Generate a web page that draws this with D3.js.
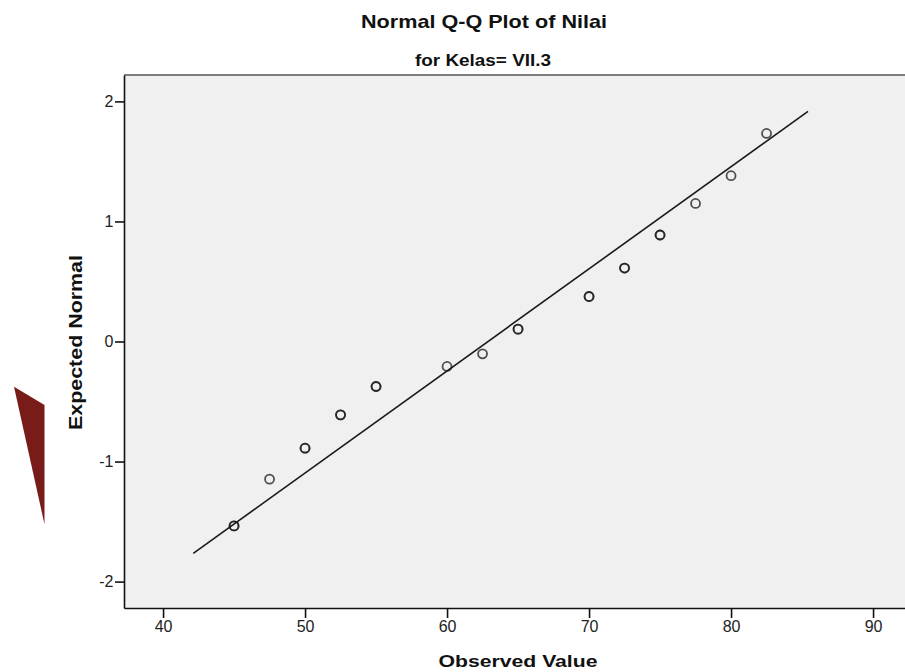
<!DOCTYPE html>
<html>
<head>
<meta charset="utf-8">
<script src="https://cdn.jsdelivr.net/npm/d3@7"></script>
<style>
  body { margin: 0; background: #fff; }
  svg { display: block; }
  .axis text { font-family: "Liberation Sans", Arial, sans-serif; font-size: 16px; fill: #222; }
  .axis line, .axis path { stroke: #111; stroke-width: 1.6px; }
  .label { font-family: "Liberation Sans", Arial, sans-serif; font-weight: bold; fill: #111; }
</style>
</head>
<body>
<script>
var observed = [45, 47.5, 50, 52.5, 55, 60, 62.5, 65, 70, 72.5, 75, 77.5, 80, 82.5];
var expectedNormal = [-1.536, -1.147, -0.889, -0.611, -0.375, -0.208, -0.103, 0.103, 0.375, 0.612, 0.887, 1.15, 1.381, 1.733];
// how many cases share each value (overlapping circles look darker)
var caseCount = [2, 1, 2, 2, 2, 1, 1, 2, 2, 2, 2, 1, 1, 1];

// reference line: z = (x - mean) / sd
var lineMean = 62.88, lineSd = 11.76;
var lineEnds = [42.13, 85.42];

var xTicks = [40, 50, 60, 70, 80, 90];
var yTicks = [-2, -1, 0, 1, 2];

var W = 905, H = 672;
var plotLeft = 124, plotRight = 905, plotTop = 75, plotBottom = 608;

var svg = d3.select('body').append('svg')
    .attr('width', W)
    .attr('height', H);

var x = d3.scaleLinear()
    .domain([37.25, 92.25])
    .range([plotLeft, plotRight]);

var y = d3.scaleLinear()
    .domain([-2.22, 2.22])
    .range([plotBottom, plotTop]);

// plot background
svg.append('rect')
    .attr('x', plotLeft)
    .attr('y', plotTop)
    .attr('width', plotRight - plotLeft)
    .attr('height', plotBottom - plotTop)
    .attr('fill', '#f0f0f0');

svg.append('line')
    .attr('x1', plotLeft).attr('x2', plotRight)
    .attr('y1', plotTop).attr('y2', plotTop)
    .attr('stroke', '#555')
    .attr('stroke-width', 1.6);

// axes
var plainNum = function(d) { return String(d); };

svg.append('g')
    .attr('class', 'x axis')
    .attr('transform', 'translate(0,' + plotBottom + ')')
    .call(d3.axisBottom(x).tickValues(xTicks).tickFormat(plainNum)
      .tickSize(10).tickSizeOuter(0).tickPadding(3));

svg.append('g')
    .attr('class', 'y axis')
    .attr('transform', 'translate(' + plotLeft + ',0)')
    .call(d3.axisLeft(y).tickValues(yTicks).tickFormat(plainNum)
      .tickSize(9).tickSizeOuter(0).tickPadding(1.5));

// reference line
svg.append('line')
    .attr('x1', x(lineEnds[0]))
    .attr('y1', y((lineEnds[0] - lineMean) / lineSd))
    .attr('x2', x(lineEnds[1]))
    .attr('y2', y((lineEnds[1] - lineMean) / lineSd))
    .attr('stroke', '#1a1a1a')
    .attr('stroke-width', 1.6);

// points
var pts = [];
observed.forEach(function(v, i) {
  for (var k = 0; k < caseCount[i]; k++) pts.push({x: v, y: expectedNormal[i]});
});

svg.selectAll('.pt')
    .data(pts)
    .enter().append('circle')
    .attr('class', 'pt')
    .attr('cx', function(d) { return x(d.x); })
    .attr('cy', function(d) { return y(d.y); })
    .attr('r', 4.5)
    .attr('fill', 'none')
    .attr('stroke', '#1a1a1a')
    .attr('stroke-opacity', 0.75)
    .attr('stroke-width', 1.8);

// titles
svg.append('text')
    .attr('class', 'label')
    .attr('x', 484).attr('y', 28)
    .attr('text-anchor', 'middle')
    .attr('font-size', '19px')
    .attr('textLength', 246)
    .attr('lengthAdjust', 'spacingAndGlyphs')
    .text('Normal Q-Q Plot of Nilai');

svg.append('text')
    .attr('class', 'label')
    .attr('x', 483).attr('y', 66)
    .attr('text-anchor', 'middle')
    .attr('font-size', '16px')
    .attr('textLength', 136)
    .attr('lengthAdjust', 'spacingAndGlyphs')
    .text('for Kelas= VII.3');

svg.append('text')
    .attr('class', 'label')
    .attr('x', 518).attr('y', 667)
    .attr('text-anchor', 'middle')
    .attr('font-size', '17px')
    .attr('textLength', 159)
    .attr('lengthAdjust', 'spacingAndGlyphs')
    .text('Observed Value');

svg.append('text')
    .attr('class', 'label')
    .attr('transform', 'translate(82,342.5) rotate(-90)')
    .attr('text-anchor', 'middle')
    .attr('font-size', '19px')
    .attr('textLength', 175)
    .attr('lengthAdjust', 'spacingAndGlyphs')
    .text('Expected Normal');

// dark red wedge on the left edge
svg.append('path')
    .attr('d', 'M14,386.7 L44.5,405 L44.5,524.3 Z')
    .attr('fill', '#781c1a');
</script>
</body>
</html>
